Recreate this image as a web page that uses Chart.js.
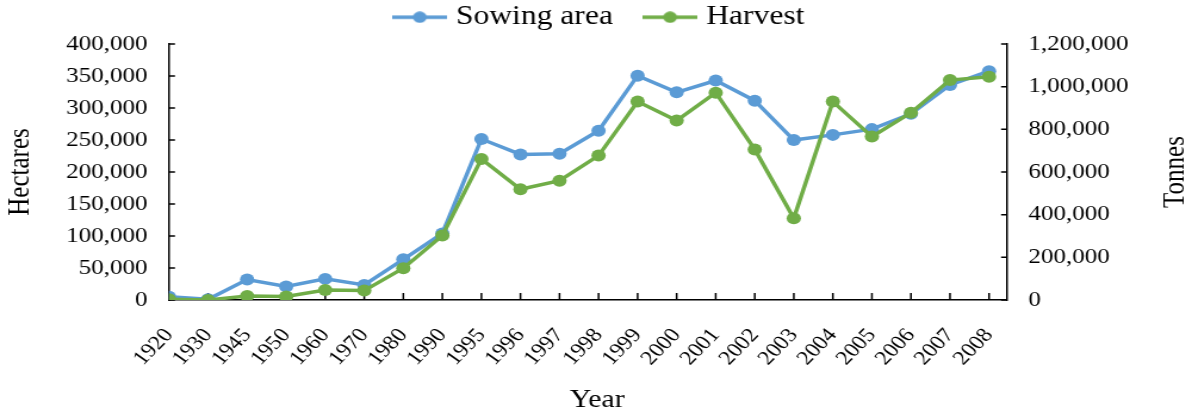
<!DOCTYPE html>
<html>
<head>
<meta charset="utf-8">
<script src="https://cdn.jsdelivr.net/npm/chart.js@4"></script>
<style>
  body { margin: 0; background: #fff; }
</style>
</head>
<body>
<canvas id="chart" width="1000" height="414" style="width:1192px;height:414px"></canvas>
<script>
const years = ["1920", "1930", "1945", "1950", "1960", "1970", "1980", "1990", "1995", "1996", "1997",
  "1998", "1999", "2000", "2001", "2002", "2003", "2004", "2005", "2006", "2007", "2008"];
const sowingArea = [5000, 1000, 32000, 21000, 33000, 23500, 63500, 104000, 251500, 227500, 228500,
  264500, 350500, 324500, 343000, 311500, 250000, 258000, 267000, 291000, 336000, 357500];
const harvest = [3000, 0, 19000, 16000, 47000, 44000, 149000, 302000, 661000, 519000, 559000,
  677000, 930000, 841000, 972000, 706000, 383000, 930000, 766000, 878000, 1031000, 1047000];
const hectareTicks = [0, 50000, 100000, 150000, 200000, 250000, 300000, 350000, 400000];
const tonneTicks = [0, 200000, 400000, 600000, 800000, 1000000, 1200000];

const BLUE = "#5B9BD5";
const GREEN = "#70AD47";
const FONT = '"Liberation Serif", "Times New Roman", serif';

// legend marker: short line with a dot in the middle
function legendMarker(color) {
  const c = document.createElement("canvas");
  c.width = 46;
  c.height = 12;
  const g = c.getContext("2d");
  g.strokeStyle = color;
  g.lineWidth = 3.5;
  g.beginPath();
  g.moveTo(0, 6);
  g.lineTo(46, 6);
  g.stroke();
  g.fillStyle = color;
  g.beginPath();
  g.arc(23, 6, 5.8, 0, 2 * Math.PI);
  g.fill();
  return c;
}
const markers = [legendMarker(BLUE), legendMarker(GREEN)];

const fmt = (v) => Number(v).toLocaleString("en-US");

// inward tick marks, axis titles, fixed legend height
const axisExtras = {
  id: "axisExtras",
  beforeLayout(chart) {
    const lg = chart.legend;
    if (lg && !lg._fixedFit) {
      const fit = lg.fit.bind(lg);
      lg.fit = function () {
        fit();
        this.height = 71;
      };
      lg._fixedFit = true;
    }
  },
  beforeDatasetsDraw(chart) {
    const { ctx, scales } = chart;
    const { x, y, y1 } = scales;
    ctx.save();
    ctx.strokeStyle = "#000";
    ctx.lineWidth = 1.5;
    ctx.beginPath();
    years.forEach((_, i) => {
      const px = x.getPixelForValue(i);
      ctx.moveTo(px, x.top);
      ctx.lineTo(px, x.top - 7);
    });
    y.ticks.forEach((t) => {
      const py = y.getPixelForValue(t.value);
      ctx.moveTo(y.right, py);
      ctx.lineTo(y.right + 5, py);
    });
    y1.ticks.forEach((t) => {
      const py = y1.getPixelForValue(t.value);
      ctx.moveTo(y1.left, py);
      ctx.lineTo(y1.left - 5, py);
    });
    ctx.stroke();
    ctx.restore();
  },
  afterDraw(chart) {
    const { ctx, chartArea, scales } = chart;
    ctx.save();
    ctx.fillStyle = "#000";
    ctx.font = "25px " + FONT;
    ctx.textAlign = "center";
    ctx.textBaseline = "middle";
    ctx.fillText("Year", 501, 400);
    ctx.translate(scales.y1.right - 14, (chartArea.top + chartArea.bottom) / 2);
    ctx.rotate(-Math.PI / 2);
    ctx.fillText("Tonnes", 0, 0);
    ctx.restore();
  },
};

new Chart(document.getElementById("chart"), {
  type: "line",
  data: {
    datasets: [
      {
        label: "Sowing area",
        data: sowingArea.map((v, i) => ({ x: i, y: v })),
        yAxisID: "y",
        borderColor: BLUE,
        backgroundColor: BLUE,
        pointBackgroundColor: BLUE,
        borderWidth: 3.5,
        pointRadius: 6,
        pointBorderWidth: 0,
        tension: 0,
        order: 1,
      },
      {
        label: "Harvest",
        data: harvest.map((v, i) => ({ x: i, y: v })),
        yAxisID: "y1",
        borderColor: GREEN,
        backgroundColor: GREEN,
        pointBackgroundColor: GREEN,
        borderWidth: 3.5,
        pointRadius: 6,
        pointBorderWidth: 0,
        tension: 0,
        order: 0,
      },
    ],
  },
  options: {
    responsive: false,
    animation: false,
    events: [],
    layout: { padding: { top: -27, left: 10, right: 0, bottom: 0 } },
    plugins: {
      tooltip: { enabled: false },
      legend: {
        position: "top",
        labels: {
          color: "#000",
          font: { family: FONT, size: 26.5 },
          usePointStyle: true,
          pointStyleWidth: 34,
          padding: 31,
          sort: (a, b) => a.datasetIndex - b.datasetIndex,
          generateLabels: (chart) =>
            Chart.defaults.plugins.legend.labels
              .generateLabels(chart)
              .map((l) => ({ ...l, pointStyle: markers[l.datasetIndex] })),
        },
      },
    },
    scales: {
      x: {
        type: "linear",
        min: 0,
        max: 21.46,
        afterBuildTicks: (scale) => {
          scale.ticks = years.map((_, i) => ({ value: i }));
        },
        afterFit: (scale) => {
          scale.height = 114;
        },
        grid: { display: false, drawTicks: false },
        border: { color: "#000", width: 1.5 },
        ticks: {
          autoSkip: false,
          minRotation: 50,
          maxRotation: 50,
          padding: 24,
          color: "#000",
          font: { family: FONT, size: 20 },
          callback: (v) => years[v],
        },
      },
      y: {
        position: "left",
        min: 0,
        max: 400000,
        afterBuildTicks: (scale) => {
          scale.ticks = hectareTicks.map((v) => ({ value: v }));
        },
        afterFit: (scale) => {
          scale.width = 131.8;
        },
        grid: { display: false, drawTicks: false },
        border: { color: "#000", width: 1.5 },
        ticks: {
          padding: 18,
          color: "#000",
          font: { family: FONT, size: 21 },
          callback: fmt,
        },
        title: {
          display: true,
          text: "Hectares",
          color: "#000",
          font: { family: FONT, size: 25 },
          padding: { top: -8, bottom: 0 },
        },
      },
      y1: {
        position: "right",
        min: 0,
        max: 1200000,
        afterBuildTicks: (scale) => {
          scale.ticks = tonneTicks.map((v) => ({ value: v }));
        },
        afterFit: (scale) => {
          scale.width = 155.2;
        },
        grid: { display: false, drawTicks: false },
        border: { color: "#000", width: 1.5 },
        ticks: {
          padding: 18,
          color: "#000",
          font: { family: FONT, size: 21 },
          callback: fmt,
        },
      },
    },
  },
  plugins: [axisExtras],
});
</script>
</body>
</html>
